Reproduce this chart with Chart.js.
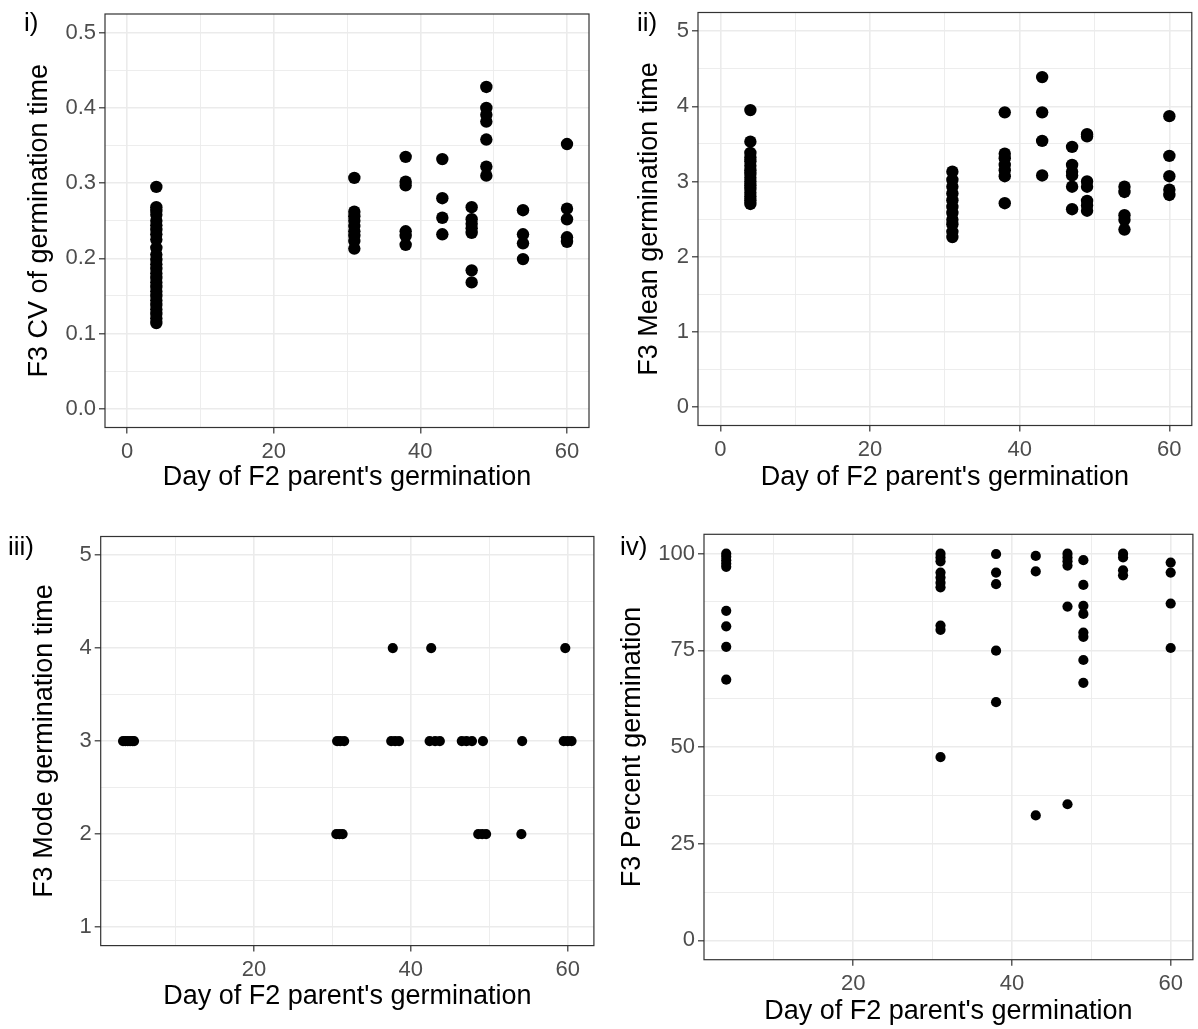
<!DOCTYPE html>
<html><head><meta charset="utf-8">
<script src="https://cdn.jsdelivr.net/npm/chart.js@4.4.0/dist/chart.umd.min.js"></script>
<style>
html,body{margin:0;padding:0;background:#fff;}
#wrap{position:relative;width:1198px;height:1029px;overflow:hidden;background:#fff;}
canvas{position:absolute;}
.lab{position:absolute;font-family:"Liberation Sans",Arial,sans-serif;font-size:26px;line-height:26px;color:#000;white-space:nowrap;}
</style></head><body>
<div id="wrap">
<canvas id="c1" width="599" height="505" style="left:0;top:0"></canvas>
<canvas id="c2" width="599" height="505" style="left:599px;top:0"></canvas>
<canvas id="c3" width="599" height="524" style="left:0;top:505px"></canvas>
<canvas id="c4" width="599" height="524" style="left:599px;top:505px"></canvas>
<div class="lab" style="left:24px;top:9px">i)</div>
<div class="lab" style="left:637px;top:9px">ii)</div>
<div class="lab" style="left:8px;top:533px">iii)</div>
<div class="lab" style="left:620px;top:533px">iv)</div>
</div>
<script>
// ---------------- DATA ----------------
// panel i: CV of germination time, grouped by day of F2 parent's germination
const cvDays = [4, 31, 38, 43, 47, 49, 54, 60];
const cvValues = [
  [0.295, 0.268, 0.263, 0.258, 0.250, 0.244, 0.238, 0.232, 0.225, 0.214, 0.205, 0.198, 0.192, 0.186, 0.180, 0.174, 0.168, 0.162, 0.156, 0.150, 0.144, 0.138, 0.132, 0.126, 0.120, 0.114],
  [0.307, 0.262, 0.256, 0.250, 0.243, 0.236, 0.230, 0.223, 0.213],
  [0.335, 0.302, 0.297, 0.236, 0.230, 0.218],
  [0.332, 0.280, 0.254, 0.232],
  [0.268, 0.252, 0.246, 0.240, 0.234, 0.184, 0.168],
  [0.428, 0.400, 0.391, 0.382, 0.358, 0.322, 0.310],
  [0.264, 0.232, 0.220, 0.199],
  [0.352, 0.266, 0.252, 0.228, 0.222]
];
// panel ii: mean germination time
const meanDays = [4, 31, 38, 43, 47, 49, 54, 60];
const meanValues = [
  [3.95, 3.53, 3.38, 3.32, 3.27, 3.21, 3.15, 3.10, 3.05, 3.00, 2.95, 2.90, 2.85, 2.80, 2.75, 2.70],
  [3.13, 3.02, 2.93, 2.84, 2.75, 2.66, 2.58, 2.49, 2.43, 2.33, 2.26],
  [3.92, 3.37, 3.31, 3.22, 3.15, 3.07, 2.71],
  [4.39, 3.92, 3.54, 3.08],
  [3.46, 3.22, 3.13, 3.08, 2.93, 2.63],
  [3.63, 3.60, 3.00, 2.93, 2.74, 2.68, 2.61],
  [2.93, 2.86, 2.55, 2.49, 2.36],
  [3.87, 3.34, 3.07, 2.89, 2.82]
];
// panel iii: mode germination time (days jittered horizontally)
const modeDay = [3.3, 3.6, 3.9, 4.2, 4.5, 4.7, 30.6, 31.0, 31.5, 37.5, 38.0, 38.5, 42.4, 43.1, 43.7, 46.5, 47.1, 47.8, 49.2, 54.2, 59.5, 60.0, 60.5,
                 37.7, 42.6, 59.7,
                 30.5, 30.9, 31.3, 48.6, 49.1, 49.6, 54.1];
const modeValue = [3, 3, 3, 3, 3, 3, 3, 3, 3, 3, 3, 3, 3, 3, 3, 3, 3, 3, 3, 3, 3, 3, 3,
                   4, 4, 4,
                   2, 2, 2, 2, 2, 2, 2];
// panel iv: percent germination
const pctDays = [4, 31, 38, 43, 47, 49, 54, 60];
const pctValues = [
  [100, 99.2, 98.3, 97.4, 96.6, 85.2, 81.2, 75.9, 67.4],
  [100, 99, 98, 95.1, 93.8, 92.5, 91.3, 81.4, 80.3, 47.4],
  [99.9, 95.1, 92.1, 74.9, 61.6],
  [99.4, 95.4, 32.3],
  [100, 99, 98, 96.9, 86.3, 35.2],
  [98.3, 91.9, 86.5, 84.4, 79.6, 78.5, 72.5, 66.6],
  [100, 99, 95.7, 94.4],
  [97.7, 95.1, 87.1, 75.6]
];
// tick labels (major) and minor grid positions
const xTicksA = [0, 20, 40, 60];          const xMinorA = [10, 30, 50];
const xTicksB = [20, 40, 60];             const xMinorB = [10, 30, 50];
const cvTicks = [0, 0.1, 0.2, 0.3, 0.4, 0.5];   const cvMinor = [0.05, 0.15, 0.25, 0.35, 0.45];
const meanTicks = [0, 1, 2, 3, 4, 5];     const meanMinor = [0.5, 1.5, 2.5, 3.5, 4.5];
const modeTicks = [1, 2, 3, 4, 5];        const modeMinor = [1.5, 2.5, 3.5, 4.5];
const pctTicks = [0, 25, 50, 75, 100];    const pctMinor = [12.5, 37.5, 62.5, 87.5];
const xTitle = "Day of F2 parent's germination";

// ---------------- CHARTS ----------------
const FONT = '"Liberation Sans", Arial, sans-serif';
const grouped = (days, vals) => days.flatMap((d, i) => vals[i].map(v => ({x: d, y: v})));
const paired = (xs, ys) => xs.map((x, i) => ({x: x, y: ys[i]}));

const boxPlugin = {
  id: 'box',
  afterDraw(chart) {
    const {ctx, chartArea: a} = chart;
    ctx.save();
    ctx.strokeStyle = '#333333';
    ctx.lineWidth = 1.2;
    ctx.strokeRect(a.left, a.top, a.right - a.left, a.bottom - a.top);
    ctx.restore();
  }
};

function axis(o) {
  const list = o.major.map(v => ({v, mj: true})).concat(o.minor.map(v => ({v, mj: false})))
    .sort((a, b) => a.v - b.v);
  return {
    type: 'linear', position: o.pos, min: o.min, max: o.max,
    afterBuildTicks: s => { s.ticks = list.map(t => ({value: t.v, mj: t.mj})); },
    afterFit: s => {
      if (o.pos === 'left') s.width = o.size; else s.height = o.size;
      s.paddingTop = 0; s.paddingBottom = 0; s.paddingLeft = 0; s.paddingRight = 0;
    },
    border: {display: false},
    grid: {
      color: '#ebebeb',
      lineWidth: c => (c.tick && c.tick.mj) ? 1.6 : 0.9,
      drawTicks: true, tickLength: 6, tickWidth: 1.2,
      tickColor: c => (c.tick && c.tick.mj) ? '#333333' : 'rgba(0,0,0,0)'
    },
    ticks: {
      autoSkip: false, maxRotation: 0, minRotation: 0, padding: o.tpad,
      color: '#4d4d4d', font: {family: FONT, size: 22},
      callback: (v, i, t) => t[i].mj ? o.fmt(v) : ''
    },
    title: {
      display: true, text: o.title, color: '#000', font: {family: FONT, size: 27},
      padding: o.pos === 'left' ? {top: o.titlePad, bottom: 0} : {top: 0, bottom: o.titlePad}
    }
  };
}

function make(id, data, r, g) {
  new Chart(document.getElementById(id), {
    type: 'scatter',
    data: {datasets: [{data, pointRadius: r, pointHoverRadius: r, backgroundColor: '#000', borderColor: '#000', borderWidth: 0}]},
    options: {
      responsive: false, animation: false, events: [],
      layout: {padding: {left: 0, top: g.top, right: g.right, bottom: 0}},
      plugins: {legend: {display: false}, tooltip: {enabled: false}},
      scales: {x: g.x, y: g.y}
    },
    plugins: [boxPlugin]
  });
}

const int = v => String(v);
make('c1', grouped(cvDays, cvValues), 6.2, {
  top: 14, right: 10,
  x: axis({pos: 'bottom', min: -3, max: 63, major: xTicksA, minor: xMinorA, size: 77.5, tpad: 5, fmt: int, title: xTitle, titlePad: 10.8}),
  y: axis({pos: 'left', min: -0.025, max: 0.525, major: cvTicks, minor: cvMinor, size: 105, tpad: 3, fmt: v => v.toFixed(1), title: 'F3 CV of germination time', titlePad: 23.8})
});
make('c2', grouped(meanDays, meanValues), 6.2, {
  top: 12.5, right: 2,
  x: axis({pos: 'bottom', min: -3, max: 63, major: xTicksA, minor: xMinorA, size: 79.5, tpad: 5, fmt: int, title: xTitle, titlePad: 10.8}),
  y: axis({pos: 'left', min: -0.25, max: 5.25, major: meanTicks, minor: meanMinor, size: 99, tpad: 3, fmt: int, title: 'F3 Mean germination time', titlePad: 34.8})
});
make('c3', paired(modeDay, modeValue), 5.1, {
  top: 31.5, right: 0.7,
  x: axis({pos: 'bottom', min: 0.45, max: 63.35, major: xTicksB, minor: xMinorB, size: 83.4, tpad: 5, fmt: int, title: xTitle, titlePad: 15.8}),
  y: axis({pos: 'left', min: 0.8, max: 5.2, major: modeTicks, minor: modeMinor, size: 100.7, tpad: 3, fmt: int, title: 'F3 Mode germination time', titlePad: 28.8})
});
make('c4', grouped(pctDays, pctValues), 5.1, {
  top: 29.3, right: 2,
  x: axis({pos: 'bottom', min: 1.2, max: 62.8, major: xTicksB, minor: xMinorB, size: 69.3, tpad: 5, fmt: int, title: xTitle, titlePad: 0.8}),
  y: axis({pos: 'left', min: -5, max: 105, major: pctTicks, minor: pctMinor, size: 105, tpad: 3, fmt: int, title: 'F3 Percent germination', titlePad: 17.8})
});
</script>
</body></html>
